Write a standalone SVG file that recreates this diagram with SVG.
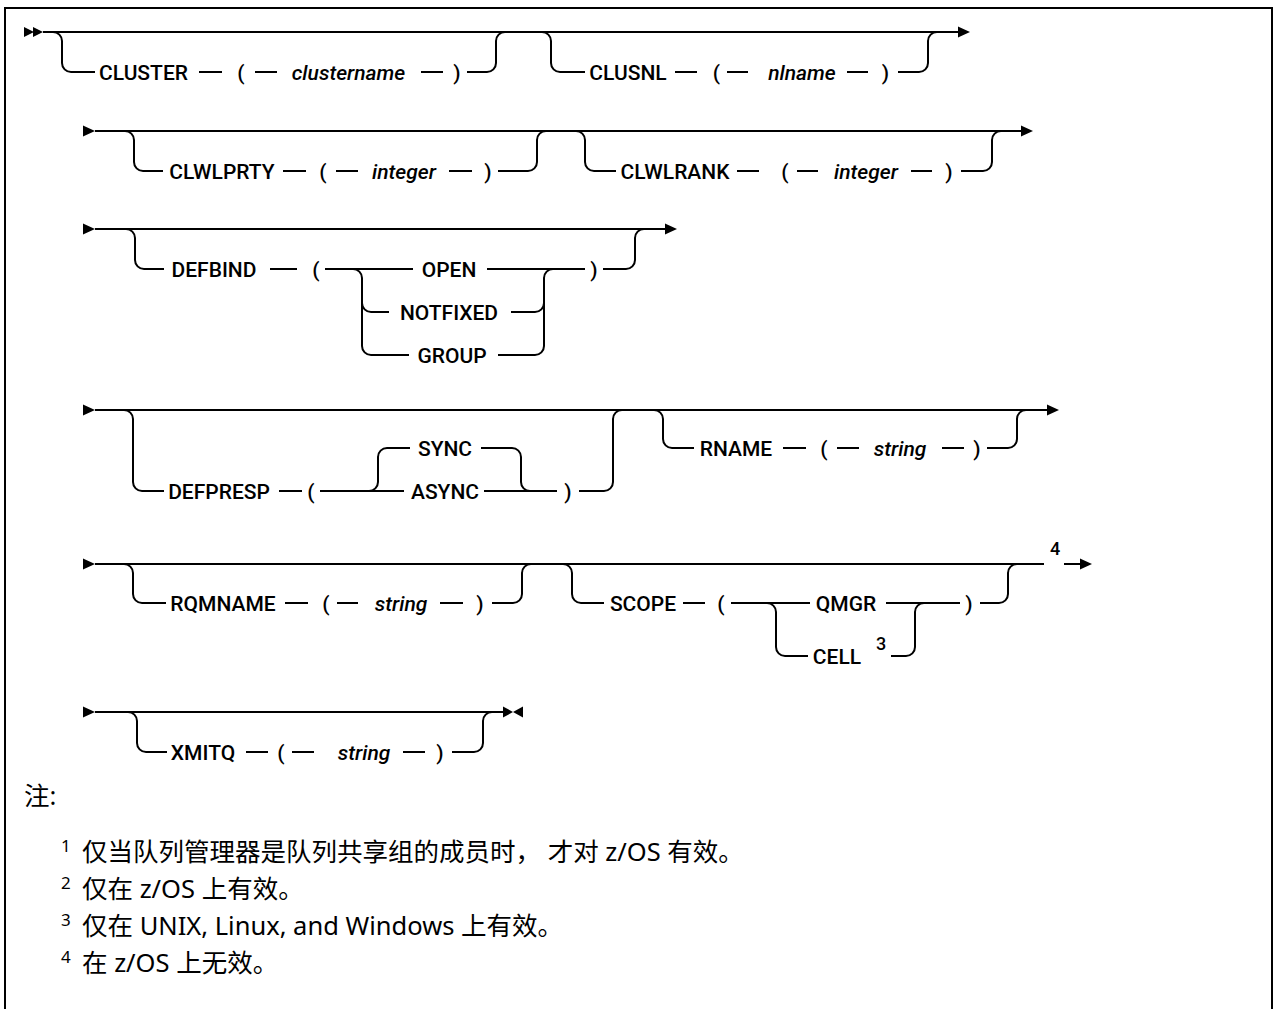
<svg xmlns="http://www.w3.org/2000/svg" width="1276" height="1009" viewBox="0 0 1276 1009">
<style>
.ln{fill:none;stroke:#000;stroke-width:2}
.ah{fill:#000;stroke:none}
text{fill:#000}
.kw{font-family:Roboto,"Liberation Sans",sans-serif;font-weight:500;font-size:21px;text-anchor:middle}
.var{font-style:italic}
.sup{font-family:Roboto,"Liberation Sans",sans-serif;font-weight:500;font-size:18px;text-anchor:middle}
.note{font-family:"Noto Sans","Noto Sans CJK SC",sans-serif;font-size:25.5px}
.nsup{font-family:"Noto Sans","Noto Sans CJK SC",sans-serif;font-size:17px}
</style>
<rect x="0" y="0" width="1276" height="1009" fill="#fff"/>
<polyline class="ln" points="5,1009 5,8 1272,8 1272,1009" stroke-width="2.5"/>

<g id="connectors">
<!-- row 1 -->
<polygon class="ah" points="24,27 34,32 24,37"/>
<polygon class="ah" points="33,27 43,32 33,37"/>
<path class="ln" d="M43,32 H958"/>
<polygon class="ah" points="958,26.5 970,32 958,37.5"/>
<path class="ln" d="M53,32 A9,9 0 0 1 62,41 V63 A9,9 0 0 0 71,72 H95"/>
<path class="ln" d="M199,72 H222 M255,72 H277 M421,72 H443"/>
<path class="ln" d="M467,72 H487 A9,9 0 0 0 496,63 V41 A9,9 0 0 1 505,32"/>
<path class="ln" d="M542,32 A9,9 0 0 1 551,41 V63 A9,9 0 0 0 560,72 H585"/>
<path class="ln" d="M675,72 H697 M727,72 H748 M847,72 H868"/>
<path class="ln" d="M898,72 H919 A9,9 0 0 0 928,63 V41 A9,9 0 0 1 937,32"/>
<!-- row 2 -->
<polygon class="ah" points="83,125.5 95,131 83,136.5"/>
<path class="ln" d="M95,131 H1021"/>
<polygon class="ah" points="1021,125.5 1033,131 1021,136.5"/>
<path class="ln" d="M125,131 A9,9 0 0 1 134,140 V162 A9,9 0 0 0 143,171 H163"/>
<path class="ln" d="M283,171 H306 M336,171 H358 M449,171 H472"/>
<path class="ln" d="M498,171 H528 A9,9 0 0 0 537,162 V140 A9,9 0 0 1 546,131"/>
<path class="ln" d="M576,131 A9,9 0 0 1 585,140 V162 A9,9 0 0 0 594,171 H616"/>
<path class="ln" d="M737,171 H759 M797,171 H818 M911,171 H932"/>
<path class="ln" d="M961,171 H983 A9,9 0 0 0 992,162 V140 A9,9 0 0 1 1001,131"/>
<!-- row 3 -->
<polygon class="ah" points="83,223.5 95,229 83,234.5"/>
<path class="ln" d="M95,229 H665"/>
<polygon class="ah" points="665,223.5 677,229 665,234.5"/>
<path class="ln" d="M126,229 A9,9 0 0 1 135,238 V260 A9,9 0 0 0 144,269 H164"/>
<path class="ln" d="M270,269 H297 M325,269 H413"/>
<path class="ln" d="M353,269 A9,9 0 0 1 362,278 V346 A9,9 0 0 0 371,355 H409 M362,303 A9,9 0 0 0 371,312 H389"/>
<path class="ln" d="M487,269 H585"/>
<path class="ln" d="M511,312 H535 A9,9 0 0 0 544,303 V278 A9,9 0 0 1 553,269 M498,355 H535 A9,9 0 0 0 544,346 V303"/>
<path class="ln" d="M603,269 H626 A9,9 0 0 0 635,260 V238 A9,9 0 0 1 644,229"/>
<!-- row 4 -->
<polygon class="ah" points="83,404.5 95,410 83,415.5"/>
<path class="ln" d="M95,410 H1047"/>
<polygon class="ah" points="1047,404.5 1059,410 1047,415.5"/>
<path class="ln" d="M124,410 A9,9 0 0 1 133,419 V482 A9,9 0 0 0 142,491 H164"/>
<path class="ln" d="M279,491 H302 M320,491 H404"/>
<path class="ln" d="M369,491 A9,9 0 0 0 378,482 V457 A9,9 0 0 1 387,448 H410"/>
<path class="ln" d="M481,448 H512 A9,9 0 0 1 521,457 V482 A9,9 0 0 0 530,491"/>
<path class="ln" d="M484,491 H557"/>
<path class="ln" d="M579,491 H604 A9,9 0 0 0 613,482 V419 A9,9 0 0 1 622,410"/>
<path class="ln" d="M654,410 A9,9 0 0 1 663,419 V439 A9,9 0 0 0 672,448 H694"/>
<path class="ln" d="M783,448 H806 M837,448 H859 M942,448 H964"/>
<path class="ln" d="M987,448 H1008 A9,9 0 0 0 1017,439 V419 A9,9 0 0 1 1026,410"/>
<!-- row 5 -->
<polygon class="ah" points="83,558.5 95,564 83,569.5"/>
<path class="ln" d="M95,564 H1044 M1064,564 H1080"/>
<polygon class="ah" points="1080,558.5 1092,564 1080,569.5"/>
<path class="ln" d="M124,564 A9,9 0 0 1 133,573 V594 A9,9 0 0 0 142,603 H166"/>
<path class="ln" d="M285,603 H308 M337,603 H358 M440,603 H463"/>
<path class="ln" d="M492,603 H513 A9,9 0 0 0 522,594 V573 A9,9 0 0 1 531,564"/>
<path class="ln" d="M563,564 A9,9 0 0 1 572,573 V594 A9,9 0 0 0 581,603 H604"/>
<path class="ln" d="M683,603 H705 M731,603 H810"/>
<path class="ln" d="M767,603 A9,9 0 0 1 776,612 V647 A9,9 0 0 0 785,656 H808"/>
<path class="ln" d="M886,603 H960"/>
<path class="ln" d="M891,656 H906 A9,9 0 0 0 915,647 V612 A9,9 0 0 1 924,603"/>
<path class="ln" d="M980,603 H999 A9,9 0 0 0 1008,594 V573 A9,9 0 0 1 1017,564"/>
<!-- row 6 -->
<polygon class="ah" points="83,706.5 95,712 83,717.5"/>
<path class="ln" d="M95,712 H503"/>
<polygon class="ah" points="503,706.5 513,712 503,717.5"/>
<polygon class="ah" points="523,706.5 513,712 523,717.5"/>
<path class="ln" d="M128,712 A9,9 0 0 1 137,721 V743 A9,9 0 0 0 146,752 H167"/>
<path class="ln" d="M246,752 H268 M292,752 H314 M403,752 H425"/>
<path class="ln" d="M452,752 H474 A9,9 0 0 0 483,743 V721 A9,9 0 0 1 492,712"/>
</g>

<g id="cluster"><text class="kw" x="143.5" y="80">CLUSTER</text><text class="kw" x="241" y="80">(</text><text class="kw var" x="348.5" y="80">clustername</text><text class="kw" x="457" y="80">)</text></g>
<g id="clusnl"><text class="kw" x="628" y="80">CLUSNL</text><text class="kw" x="716.5" y="80">(</text><text class="kw var" x="802" y="80">nlname</text><text class="kw" x="885.5" y="80">)</text></g>
<g id="clwlprty"><text class="kw" x="222" y="179">CLWLPRTY</text><text class="kw" x="323" y="179">(</text><text class="kw var" x="404" y="179">integer</text><text class="kw" x="488" y="179">)</text></g>
<g id="clwlrank"><text class="kw" x="675" y="179">CLWLRANK</text><text class="kw" x="785" y="179">(</text><text class="kw var" x="866" y="179">integer</text><text class="kw" x="949" y="179">)</text></g>
<g id="defbind"><text class="kw" x="214" y="277">DEFBIND</text><text class="kw" x="316" y="277">(</text><text class="kw" x="449" y="277">OPEN</text><text class="kw" x="449" y="320">NOTFIXED</text><text class="kw" x="452" y="363">GROUP</text><text class="kw" x="594" y="277">)</text></g>
<g id="defpresp"><text class="kw" x="219" y="499">DEFPRESP</text><text class="kw" x="311" y="499">(</text><text class="kw" x="445" y="456">SYNC</text><text class="kw" x="445" y="499">ASYNC</text><text class="kw" x="568" y="499">)</text></g>
<g id="rname"><text class="kw" x="736" y="456">RNAME</text><text class="kw" x="824" y="456">(</text><text class="kw var" x="900" y="456">string</text><text class="kw" x="977" y="456">)</text></g>
<g id="rqmname"><text class="kw" x="223" y="611">RQMNAME</text><text class="kw" x="326" y="611">(</text><text class="kw var" x="401" y="611">string</text><text class="kw" x="480" y="611">)</text></g>
<g id="scope"><text class="kw" x="643" y="611">SCOPE</text><text class="kw" x="721" y="611">(</text><text class="kw" x="846" y="611">QMGR</text><text class="kw" x="837" y="664">CELL</text><text class="sup" x="881" y="650">3</text><text class="kw" x="969" y="611">)</text></g>
<g id="note4"><text class="sup" x="1055" y="555">4</text></g>
<g id="xmitq"><text class="kw" x="203" y="760">XMITQ</text><text class="kw" x="281" y="760">(</text><text class="kw var" x="364" y="760">string</text><text class="kw" x="440" y="760">)</text></g>

<g id="notes">
<text class="note" x="24" y="805">注:</text>
<text class="nsup" x="61" y="852">1</text><text class="note" x="82" y="861">仅当队列管理器是队列共享组的成员时， 才对 z/OS 有效。</text>
<text class="nsup" x="61" y="889">2</text><text class="note" x="82" y="898">仅在 z/OS 上有效。</text>
<text class="nsup" x="61" y="926">3</text><text class="note" x="82" y="935">仅在 UNIX, Linux, and Windows 上有效。</text>
<text class="nsup" x="61" y="963">4</text><text class="note" x="82" y="972">在 z/OS 上无效。</text>
</g>
</svg>
